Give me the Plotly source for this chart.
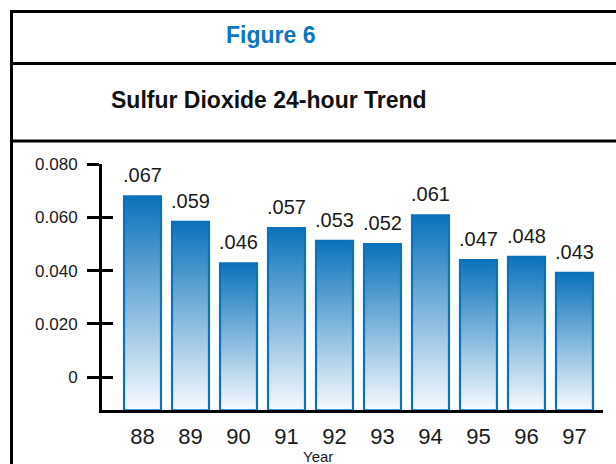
import plotly.graph_objects as go

# ---- data ----
years = ["88", "89", "90", "91", "92", "93", "94", "95", "96", "97"]
values = [0.067, 0.059, 0.046, 0.057, 0.053, 0.052, 0.061, 0.047, 0.048, 0.043]
y_tick_vals = [0, 0.02, 0.04, 0.06, 0.08]
y_tick_text = ["0", "0.020", "0.040", "0.060", "0.080"]
fig_label = "Figure 6"
chart_title = "Sulfur Dioxide 24-hour Trend"
x_title = "Year"

W, H = 616, 464
FONT = "Liberation Sans, Arial, Helvetica, sans-serif"
TOP = (10, 114, 187)
BOT = (248, 251, 254)

# the captured page shows the figure slightly squeezed vertically; map target pixel rows
OFF, SC = 9.0, 0.98
def py(y):
    return 1 - ((y - OFF) / SC) / H

fig = go.Figure()

# gradient fill: each slice runs from its base to the bar top, later slices cover earlier ones
N = 70
for k in range(N):
    t = (k + 0.5) / N
    c = tuple(round(BOT[i] + (TOP[i] - BOT[i]) * t) for i in range(3))
    fig.add_trace(go.Bar(
        x=years,
        y=[v * (1 - k / N) for v in values],
        base=[v * k / N for v in values],
        marker=dict(color="rgb(%d,%d,%d)" % c, line=dict(width=0)),
        hoverinfo="skip", showlegend=False,
    ))

# outline of each bar
fig.add_trace(go.Bar(
    x=years, y=values,
    marker=dict(color="rgba(0,0,0,0)", line=dict(color="#0a72ba", width=2.2)),
    showlegend=False,
))

# value labels
annotations = []
for i, v in enumerate(values):
    annotations.append(dict(
        x=i, y=v, xref="x", yref="y", yanchor="bottom", yshift=8,
        text=("%.3f" % v)[1:], showarrow=False,
        font=dict(family=FONT, size=20, color="#1a1a1a"),
    ))

annotations.append(dict(
    x=270 / W, y=py(35), xref="paper", yref="paper",
    text="<b>%s</b>" % fig_label, showarrow=False, xanchor="center", yanchor="middle",
    font=dict(family=FONT, size=23, color="#0a78c0"),
))
annotations.append(dict(
    x=269 / W, y=py(100), xref="paper", yref="paper",
    text="<b>%s</b>" % chart_title, showarrow=False, xanchor="center", yanchor="middle",
    font=dict(family=FONT, size=23, color="#111111"),
))
annotations.append(dict(
    x=318 / W, y=py(456), xref="paper", yref="paper",
    text=x_title, showarrow=False, xanchor="center", yanchor="middle",
    font=dict(family=FONT, size=15, color="#1a1a1a"),
))

# frame lines
shapes = []
for yy in [11.5, 63.5, 141]:
    shapes.append(dict(type="line", xref="paper", yref="paper",
                       x0=10 / W, x1=1.01, y0=py(yy), y1=py(yy),
                       line=dict(color="black", width=3)))
shapes.append(dict(type="line", xref="paper", yref="paper",
                   x0=11.5 / W, x1=11.5 / W, y0=py(10), y1=-0.01,
                   line=dict(color="black", width=3)))

x0px, x1px = 102, 603
ytop, ybot = 164, 410
ydom = [py(ybot), py(ytop)]
bar_unit_px = 3192.0          # target pixels per unit for bars (from the axis line)
tick_zero_px = 377            # target pixel row of the "0" tick
top_val = (ybot - ytop) / bar_unit_px
tick_scale = (tick_zero_px - ytop) / 0.08
tick_range = [-(ybot - tick_zero_px) / tick_scale, 0.08]

fig.update_layout(
    width=W, height=H, autosize=False,
    margin=dict(l=0, r=0, t=0, b=0),
    paper_bgcolor="white", plot_bgcolor="rgba(0,0,0,0)",
    barmode="overlay", bargap=0.23,
    annotations=annotations, shapes=shapes,
    xaxis=dict(
        type="category", domain=[x0px / W, x1px / W],
        range=[-0.844, 9.594],
        showline=True, linecolor="black", linewidth=3,
        ticks="", showgrid=False, zeroline=False, ticklabelstandoff=4,
        tickfont=dict(family=FONT, size=22, color="#1a1a1a"),
    ),
    yaxis=dict(
        domain=ydom, range=[0, top_val],
        showticklabels=False, showgrid=False, zeroline=False, showline=False, ticks="",
    ),
    yaxis2=dict(
        overlaying="y", side="left", anchor="x", range=tick_range,
        tickvals=y_tick_vals, ticktext=y_tick_text,
        ticks="outside", ticklen=12, tickwidth=3, tickcolor="black",
        showline=True, linecolor="black", linewidth=3,
        showgrid=False, zeroline=False, ticklabelstandoff=6,
        tickfont=dict(family=FONT, size=17, color="#1a1a1a"),
    ),
    yaxis3=dict(
        overlaying="y", side="left", anchor="x", range=tick_range,
        tickvals=y_tick_vals, showticklabels=False,
        ticks="inside", ticklen=11, tickwidth=3, tickcolor="black",
        showline=False, showgrid=False, zeroline=False,
    ),
)

# invisible traces to activate the tick axes
fig.add_trace(go.Scatter(x=[years[0]], y=[0], yaxis="y2", mode="markers",
                         marker=dict(opacity=0), hoverinfo="skip", showlegend=False))
fig.add_trace(go.Scatter(x=[years[0]], y=[0], yaxis="y3", mode="markers",
                         marker=dict(opacity=0), hoverinfo="skip", showlegend=False))

fig.write_html(
    "out.html",
    config={"displayModeBar": False, "responsive": False},
    post_script=(
        "document.documentElement.style.margin='0';"
        "document.body.style.margin='0';"
        "document.body.style.overflow='hidden';"
        "var d=document.querySelector('.plotly-graph-div');"
        "d.style.position='fixed';d.style.top='0px';d.style.left='0px';"
    ),
)
